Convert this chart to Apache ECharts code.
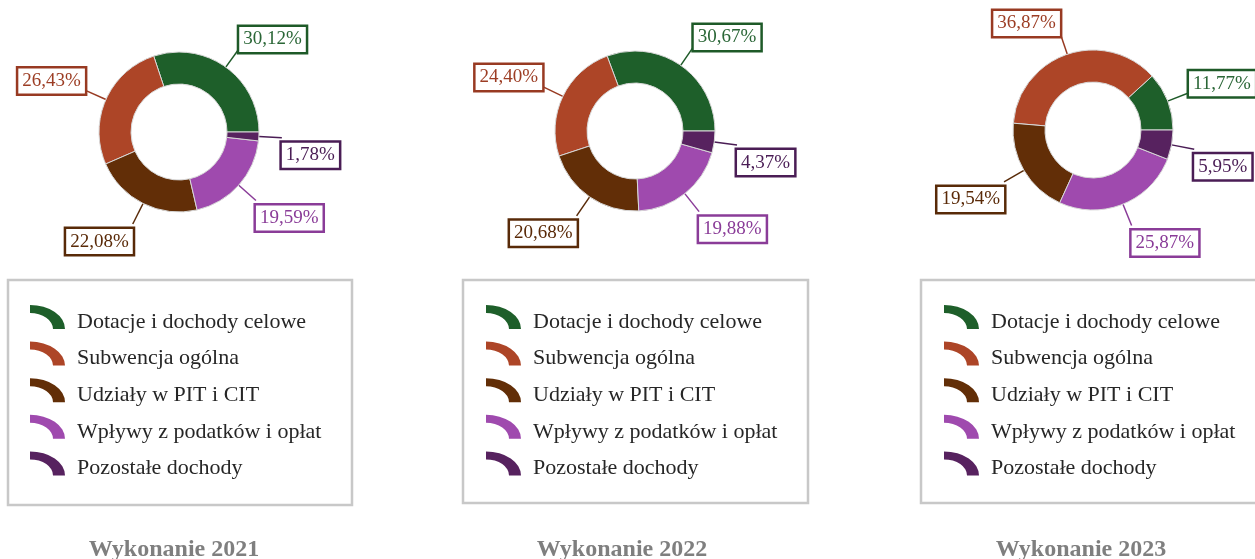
<!DOCTYPE html>
<html>
<head>
<meta charset="utf-8">
<script src="https://cdn.jsdelivr.net/npm/echarts@6/dist/echarts.min.js"></script>
<style>
  html, body { margin: 0; padding: 0; background: #fff; }
  #main { width: 1255px; height: 559px; }
</style>
</head>
<body>
<div id="main"></div>
<script>
// categories + values per year
var names = ['Dotacje i dochody celowe', 'Subwencja ogólna', 'Udziały w PIT i CIT', 'Wpływy z podatków i opłat', 'Pozostałe dochody'];
var years = ['Wykonanie 2021', 'Wykonanie 2022', 'Wykonanie 2023'];
var v2021 = [30.12, 26.43, 22.08, 19.59, 1.78];
var v2022 = [30.67, 24.40, 20.68, 19.88, 4.37];
var v2023 = [11.77, 36.87, 19.54, 25.87, 5.95];

var colors = ['#1e5f2a', '#ad4527', '#622e07', '#9f4aae', '#57225f'];
var textColors = ['#2a6636', '#9c3d24', '#5a2a08', '#8a3c98', '#4a1d55'];
var borderColors = ['#1e5a28', '#983a22', '#582a08', '#8a3c98', '#4a1d55'];

var centers = [[179, 132], [635, 131], [1093, 130]];
var legendLeft = [30, 486, 944];
var titleX = [174, 622, 1081];
var boxes = [[8, 280, 344, 225], [463, 280, 345, 223], [921, 280, 345, 223]];

// quarter ring legend marker, trailing move stretches the box so the ring sits a bit higher than the text
var arcIcon = 'path://M0,0 A35,24 0 0 1 35,24 L23,24 A23,16 0 0 0 0,8 Z M35,34';

function fmt(v) {
	return v.toFixed(2).replace('.', ',') + '%';
}

function buildData(vals) {
	return vals.map(function(v, i) {
		return {
			name: names[i],
			value: v,
			itemStyle: { color: colors[i] },
			label: { color: textColors[i], borderColor: borderColors[i] },
			labelLine: { lineStyle: { color: borderColors[i] } }
		};
	});
}

// push the box off the line end, like the office style callouts
function shiftLabel(params) {
	var pts = params.labelLinePoints;
	if (!pts) return;
	var dir = pts[1][1] - pts[0][1];
	var h = params.labelRect.height;
	return { dy: dir < 0 ? -h / 2 + 6 : h / 2 + 2.5 };
}

var allVals = [v2021, v2022, v2023];
var series = [], legends = [], titles = [], graphics = [];

for (var k = 0; k < 3; k++) {
	series.push({
		type: 'pie',
		center: centers[k],
		radius: [48, 80],
		startAngle: 0,
		clockwise: false,
		avoidLabelOverlap: false,
		itemStyle: { borderColor: '#d8d8d8', borderWidth: 1 },
		label: {
			show: true,
			position: 'outside',
			formatter: function(p) { return fmt(p.value); },
			fontFamily: 'Liberation Serif',
			fontSize: 19,
			backgroundColor: '#fff',
			borderWidth: 2.5,
			padding: [4, 4, 2, 4],
			distanceToLabelLine: 0
		},
		labelLine: { show: true, length: 23, length2: 0, lineStyle: { width: 1.5 } },
		labelLayout: shiftLabel,
		emphasis: { scale: false },
		data: buildData(allVals[k])
	});
	legends.push({
		orient: 'vertical',
		left: legendLeft[k],
		top: 305,
		padding: 0,
		itemWidth: 35,
		itemHeight: 34,
		itemGap: 2.6,
		icon: arcIcon,
		itemStyle: { borderWidth: 0 },
		textStyle: { fontFamily: 'Liberation Serif', fontSize: 22, lineHeight: 24, color: '#262626', padding: [0, 0, 0, 7] },
		data: names
	});
	titles.push({
		text: years[k],
		left: titleX[k],
		top: 538,
		padding: 0,
		textAlign: 'center',
		textStyle: { fontFamily: 'Liberation Serif', fontSize: 24, fontWeight: 'bold', color: '#7f7f7f' }
	});
	graphics.push({
		type: 'rect',
		shape: { x: boxes[k][0], y: boxes[k][1], width: boxes[k][2], height: boxes[k][3] },
		style: { fill: null, stroke: '#c8c8c8', lineWidth: 2.5 },
		silent: true
	});
}

var myChart = echarts.init(document.getElementById('main'));
myChart.setOption({
	animation: false,
	backgroundColor: '#fff',
	title: titles,
	legend: legends,
	graphic: graphics,
	series: series
});
</script>
</body>
</html>
